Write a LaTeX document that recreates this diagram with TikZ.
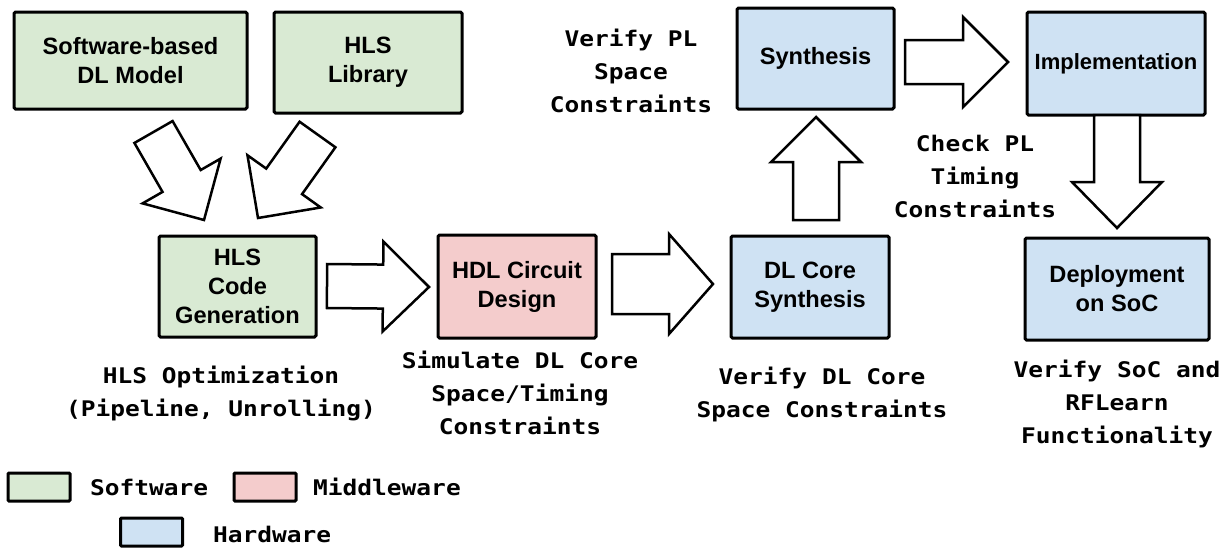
\documentclass[tikz,border=0pt]{standalone}
\usepackage{fontspec}
\setmainfont{Liberation Sans}
\newfontfamily\lblfont{DejaVu Sans Mono}[FakeStretch=1.14]
\usetikzlibrary{calc}
\definecolor{swgreen}{HTML}{D9EAD3}
\definecolor{mwpink}{HTML}{F4CCCC}
\definecolor{hwblue}{HTML}{CFE2F3}
\tikzset{
  box/.style={draw=black, line width=3pt, rounded corners=1.5pt, inner sep=0pt, align=center,
    font=\fontsize{23.6}{29}\selectfont\bfseries},
  swbox/.style={box, fill=swgreen},
  mwbox/.style={box, fill=mwpink},
  hwbox/.style={box, fill=hwblue},
  lbl/.style={align=center, inner sep=0pt, font=\lblfont\bfseries\fontsize{21.5}{33}\selectfont},
  legtext/.style={anchor=base west, inner sep=0pt, font=\lblfont\bfseries\fontsize{21.5}{33}\selectfont},
  blockarr/.style={draw=black, fill=white, line width=2.5pt, line join=miter},
  legbox/.style={draw=black, line width=3pt, rounded corners=1pt, minimum width=62pt, minimum height=28pt, inner sep=0pt}
}
% tail, tip, shaft half-width, head half-width, head length
\newcommand\blockarrow[5]{%
  \coordinate (tmpQ) at ($(#2)!#5!(#1)$);
  \draw[blockarr] ($(#1)!#3!90:(#2)$) -- ($(tmpQ)!#3!-90:(#1)$) -- ($(tmpQ)!#4!-90:(#1)$)
    -- (#2) -- ($(tmpQ)!#4!90:(#1)$) -- ($(tmpQ)!#3!90:(#1)$) -- ($(#1)!#3!-90:(#2)$) -- cycle;}
\begin{document}
\begin{tikzpicture}[x=1pt, y=-1pt]
\useasboundingbox (0,0) rectangle (1230,547);

% boxes
\node[swbox, minimum width=233pt, minimum height=97pt] (sw) at (130.5,60.5) {Software-based\\DL Model};
\node[swbox, minimum width=188pt, minimum height=101pt] (lib) at (368,62.5) {HLS\\Library};
\node[swbox, minimum width=157pt, minimum height=101pt] (hls) at (237.5,286.5) {HLS\\Code\\Generation};
\node[mwbox, minimum width=158pt, minimum height=103pt] (hdl) at (517,286.5) {HDL Circuit\\Design};
\node[hwbox, minimum width=158pt, minimum height=102pt] (core) at (810,287) {DL Core\\Synthesis};
\node[hwbox, minimum width=157pt, minimum height=101pt] (syn) at (815.5,58.5) {Synthesis};
\node[hwbox, minimum width=178pt, minimum height=103pt, font=\fontsize{22}{27}\selectfont\bfseries] (impl) at (1116,63.5) {Implementation};
\node[hwbox, minimum width=184pt, minimum height=102pt] (dep) at (1117,289) {Deployment\\on SoC};

% block arrows
\coordinate (a1s) at (153.5,132); \coordinate (a1e) at (204,220);
\coordinate (a2s) at (317.5,134.5); \coordinate (a2e) at (258,218);
\coordinate (a3s) at (327,286); \coordinate (a3e) at (429,287);
\coordinate (a4s) at (612,284); \coordinate (a4e) at (713,284);
\coordinate (a5s) at (816,220); \coordinate (a5e) at (816,117);
\coordinate (a6s) at (905,62); \coordinate (a6e) at (1008,62);
\coordinate (a7s) at (1117,115); \coordinate (a7e) at (1117,228);
\blockarrow{a1s}{a1e}{22pt}{45pt}{45pt}
\blockarrow{a2s}{a2e}{22pt}{45pt}{45pt}
\blockarrow{a3s}{a3e}{22pt}{45pt}{46pt}
\blockarrow{a4s}{a4e}{30pt}{50pt}{44pt}
\blockarrow{a5s}{a5e}{23pt}{45pt}{45pt}
\blockarrow{a6s}{a6e}{22pt}{45pt}{45pt}
\blockarrow{a7s}{a7e}{23pt}{45pt}{46pt}

% labels
\node[lbl] (vpl) at (631,71) {Verify PL\\Space\\Constraints};
\node[lbl] (cpl) at (975,176) {Check PL\\Timing\\Constraints};
\node[lbl] (opt) at (221,393) {HLS Optimization\\(Pipeline, Unrolling)};
\node[lbl] (sim) at (520,393) {Simulate DL Core\\Space/Timing\\Constraints};
\node[lbl] (vdl) at (822,394) {Verify DL Core\\Space Constraints};
\node[lbl] (vsoc) at (1117,404) {Verify SoC and\\RFLearn\\Functionality};

% legend
\node[legbox, fill=swgreen] (lsw) at (39,487) {};
\node[legtext] (lswt) at (90,495) {Software};
\node[legbox, fill=mwpink] (lmw) at (265,487) {};
\node[legtext] (lmwt) at (313,495) {Middleware};
\node[legbox, fill=hwblue] (lhw) at (151.5,532) {};
\node[legtext] (lhwt) at (213,542) {Hardware};
\end{tikzpicture}
\end{document}
